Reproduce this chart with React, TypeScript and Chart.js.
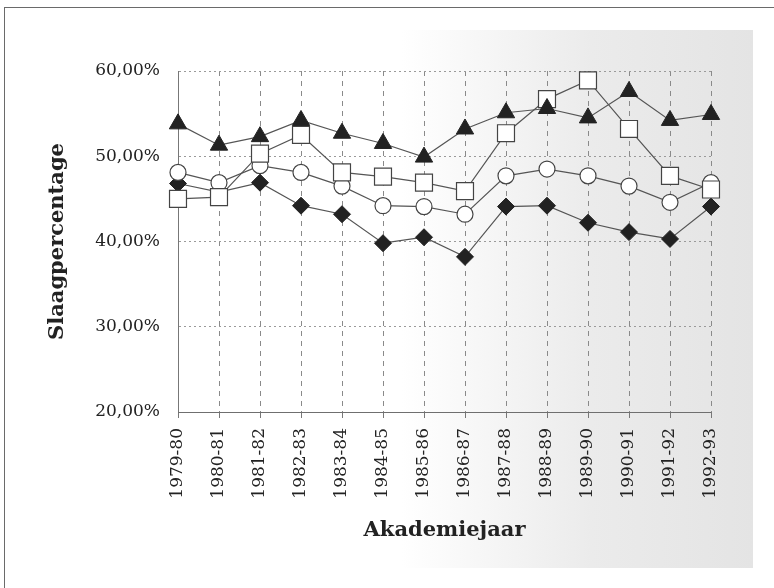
import React, { useEffect, useRef } from "react";
import { Chart, registerables } from "chart.js";

Chart.register(...registerables);

const categories = [
  "1979-80", "1980-81", "1981-82", "1982-83", "1983-84", "1984-85", "1985-86",
  "1986-87", "1987-88", "1988-89", "1989-90", "1990-91", "1991-92", "1992-93",
];

const triangleSeries = [53.8, 51.3, 52.3, 54.2, 52.7, 51.5, 49.9, 53.2, 55.1, 55.6, 54.5, 57.6, 54.2, 54.9];
const squareSeries = [45.0, 45.2, 50.3, 52.5, 48.1, 47.6, 46.9, 45.9, 52.7, 56.7, 58.9, 53.2, 47.7, 46.1];
const circleSeries = [48.1, 46.9, 48.9, 48.1, 46.5, 44.2, 44.1, 43.2, 47.7, 48.5, 47.7, 46.5, 44.6, 46.9];
const diamondSeries = [46.8, 45.8, 46.9, 44.2, 43.2, 39.8, 40.5, 38.2, 44.1, 44.2, 42.2, 41.1, 40.3, 44.1];

const yTicks = [20, 30, 40, 50, 60];
const xTitle = "Akademiejaar";
const yTitle = "Slaagpercentage";

const INK = "#222222";
const LINE = "#555555";

const axisLines = {
  id: "axisLines",
  afterDatasetsDraw: (c: any) => {
    const { ctx, chartArea } = c;
    ctx.save();
    ctx.strokeStyle = "#6f6f6f";
    ctx.lineWidth = 1.2;
    ctx.setLineDash([]);
    ctx.beginPath();
    ctx.moveTo(chartArea.left, chartArea.bottom + 0.5);
    ctx.lineTo(chartArea.right, chartArea.bottom + 0.5);
    ctx.stroke();
    ctx.restore();
  },
};

export default function App() {
  const ref = useRef<HTMLCanvasElement | null>(null);

  useEffect(() => {
    if (!ref.current) return;
    const chart = new Chart(ref.current, {
      type: "line",
      data: {
        labels: categories,
        datasets: [
          {
            label: "triangle",
            data: triangleSeries,
            borderColor: LINE,
            borderWidth: 1.2,
            pointStyle: "triangle",
            pointRadius: 10,
            pointBackgroundColor: INK,
            pointBorderColor: INK,
            pointBorderWidth: 1,
            order: 1,
          },
          {
            label: "square",
            data: squareSeries,
            borderColor: LINE,
            borderWidth: 1.2,
            pointStyle: "rect",
            pointRadius: 12,
            pointBackgroundColor: "#ffffff",
            pointBorderColor: "#444444",
            pointBorderWidth: 1.2,
            order: 2,
          },
          {
            label: "circle",
            data: circleSeries,
            borderColor: LINE,
            borderWidth: 1.2,
            pointStyle: "circle",
            pointRadius: 8,
            pointBackgroundColor: "#ffffff",
            pointBorderColor: "#444444",
            pointBorderWidth: 1.2,
            order: 3,
          },
          {
            label: "diamond",
            data: diamondSeries,
            borderColor: LINE,
            borderWidth: 1.2,
            pointStyle: "rectRot",
            pointRadius: 8.5,
            pointBackgroundColor: INK,
            pointBorderColor: INK,
            pointBorderWidth: 1,
            order: 4,
          },
        ],
      },
      options: {
        animation: false,
        responsive: false,
        maintainAspectRatio: false,
        layout: { padding: { left: 45, right: 63, top: 71, bottom: 45 } },
        plugins: {
          legend: { display: false },
          tooltip: { enabled: false },
        },
        scales: {
          x: {
            type: "category",
            offset: false,
            afterFit: (s: any) => {
              s.height = 131;
            },
            grid: {
              color: "#8a8a8a",
              lineWidth: 1,
              drawTicks: true,
              tickLength: 6,
              tickColor: "#777777",
            },
            border: { display: false, dash: [5, 5] },
            ticks: {
              autoSkip: false,
              maxRotation: 90,
              minRotation: 90,
              padding: 10,
              color: INK,
              font: { family: "DejaVu Serif", size: 17 },
            },
            title: {
              display: true,
              text: xTitle,
              color: INK,
              padding: 0,
              font: { family: "DejaVu Serif", size: 21, weight: "bold" },
            },
          },
          y: {
            min: 20,
            max: 60,
            afterFit: (s: any) => {
              s.width = 133;
            },
            afterBuildTicks: (s: any) => {
              s.ticks = yTicks.map((v) => ({ value: v }));
            },
            grid: {
              color: "#9a9a9a",
              lineWidth: 1,
              drawTicks: false,
            },
            border: { display: true, color: "#777777", width: 1, dash: [2, 3] },
            ticks: {
              padding: 18,
              color: INK,
              font: { family: "DejaVu Serif", size: 17 },
              callback: (v: any) => Number(v).toFixed(2).replace(".", ",") + "%",
            },
            title: {
              display: true,
              text: yTitle,
              color: INK,
              padding: 0,
              font: { family: "DejaVu Serif", size: 21, weight: "bold" },
            },
          },
        },
      },
      plugins: [axisLines],
    } as any);
    return () => chart.destroy();
  }, []);

  return (
    <div
      style={{
        position: "fixed",
        left: 0,
        top: 0,
        width: 774,
        height: 588,
        background: "#ffffff",
        overflow: "hidden",
      }}
    >
      <div
        style={{
          position: "absolute",
          left: 20,
          top: 30,
          width: 733,
          height: 538,
          background:
            "linear-gradient(to right, rgba(255,255,255,0) 0%, rgba(255,255,255,0) 52%, #ebebeb 78%, #e4e4e4 100%)",
        }}
      />
      <div
        style={{
          position: "absolute",
          left: 4,
          top: 7,
          width: 770,
          height: 581,
          borderTop: "1.5px solid #6a6a6a",
          borderLeft: "1.5px solid #6a6a6a",
          boxSizing: "border-box",
        }}
      />
      <canvas
        ref={ref}
        width={774}
        height={588}
        style={{ position: "absolute", left: 0, top: 0, width: 774, height: 588 }}
      />
    </div>
  );
}
